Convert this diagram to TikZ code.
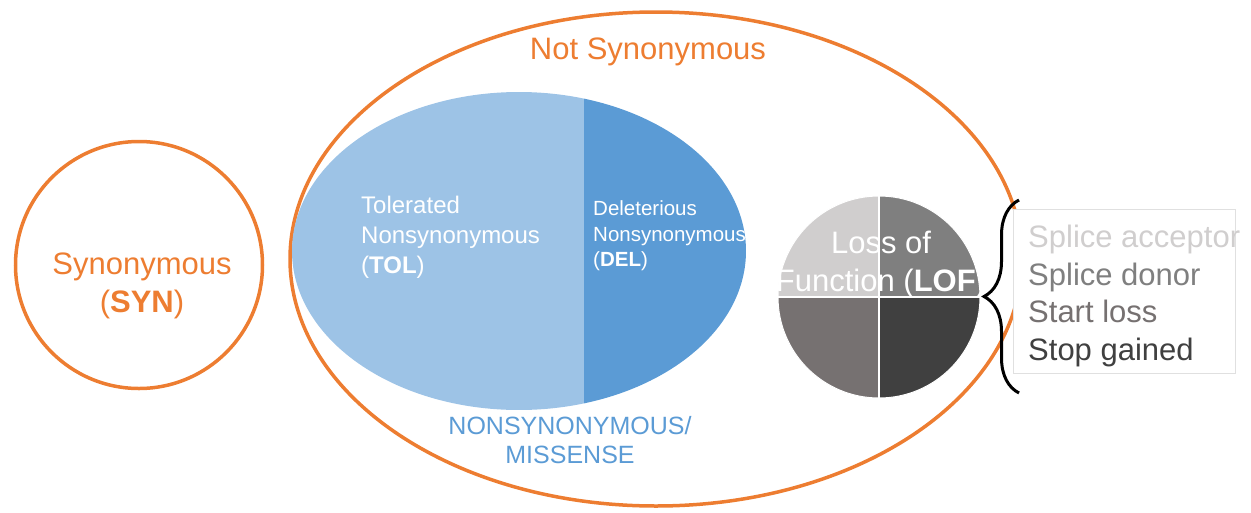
\documentclass[tikz,border=0pt]{standalone}
\usepackage{fontspec}
\setmainfont{Liberation Sans}
\usetikzlibrary{shapes.geometric,decorations.pathreplacing}
\definecolor{synorange}{HTML}{ED7D31}
\definecolor{tolblue}{HTML}{9DC3E6}
\definecolor{delblue}{HTML}{5B9BD5}
\definecolor{lofa}{HTML}{D0CECE}
\definecolor{lofb}{HTML}{7F7F7F}
\definecolor{lofc}{HTML}{767171}
\definecolor{lofd}{HTML}{404040}
\begin{document}
\begin{tikzpicture}[x=1pt,y=-1pt,inner sep=0pt,
	ring/.style={draw=synorange,line width=3.5pt},
	big text/.style={font=\fontsize{31}{37.5}\selectfont},
	mid text/.style={font=\fontsize{24}{30}\selectfont,text=white,align=left,anchor=west},
	small text/.style={font=\fontsize{20.5}{25.5}\selectfont,text=white,align=left,anchor=west}]
	
	\useasboundingbox (0,0) rectangle (1251,512);
	
	\node (notsyn) [ellipse,ring,minimum width=732pt,minimum height=494pt] at (656,259) {};
	\node (syn) [circle,ring,minimum size=247pt] at (139,265) {};
	
	\node (ns) [ellipse,minimum width=454pt,minimum height=318pt,path picture={
		\fill[tolblue] (path picture bounding box.south west) rectangle ([xshift=65pt]path picture bounding box.north);
		\fill[delblue] ([xshift=65pt]path picture bounding box.north) rectangle (path picture bounding box.south east);
	}] at (519,251) {};
	
	\node (lof) [circle,draw=white,line width=1pt,minimum size=202pt,path picture={
		\fill[lofa] (path picture bounding box.center) rectangle (path picture bounding box.north west);
		\fill[lofb] (path picture bounding box.center) rectangle (path picture bounding box.north east);
		\fill[lofc] (path picture bounding box.center) rectangle (path picture bounding box.south west);
		\fill[lofd] (path picture bounding box.center) rectangle (path picture bounding box.south east);
		\draw[white,line width=2pt] (path picture bounding box.north) -- (path picture bounding box.south)
			(path picture bounding box.west) -- (path picture bounding box.east);
	}] at (879,297) {};
	
	\node (lst) [draw=black!12,fill=white,line width=0.8pt,minimum width=222pt,minimum height=164pt,anchor=north west] at (1013,209) {};
	
	\coordinate (b1) at (1019,393);
	\coordinate (b2) at (1019,200);
	\draw[line width=3pt,decorate,decoration={brace,amplitude=35pt}] (b1) -- (b2);
	
	% labels
	\node (t1) [big text,text=synorange] at (648,52) {Not Synonymous};
	\node (t2) [big text,text=synorange,align=center] at (142,286) {Synonymous\\(\textbf{SYN})};
	\node (t3) [mid text] at (361,237) {Tolerated\\Nonsynonymous\\(\textbf{TOL})};
	\node (t4) [small text] at (593,236) {Deleterious\\Nonsynonymous\\(\textbf{DEL})};
	\node (t5) [font=\fontsize{25}{29}\selectfont,text=delblue,align=center] at (570,440) {NONSYNONYMOUS/\\MISSENSE};
	\node (t6) [big text,text=white,align=center,font=\fontsize{31}{38}\selectfont] at (881,264) {Loss of\\Function (\textbf{LOF})};
	\node (t7) [big text,align=left,anchor=west] at (1028,296) {\textcolor{lofa}{Splice acceptor}\\\textcolor{lofb}{Splice donor}\\\textcolor{lofc}{Start loss}\\\textcolor{lofd}{Stop gained}};
\end{tikzpicture}
\end{document}
